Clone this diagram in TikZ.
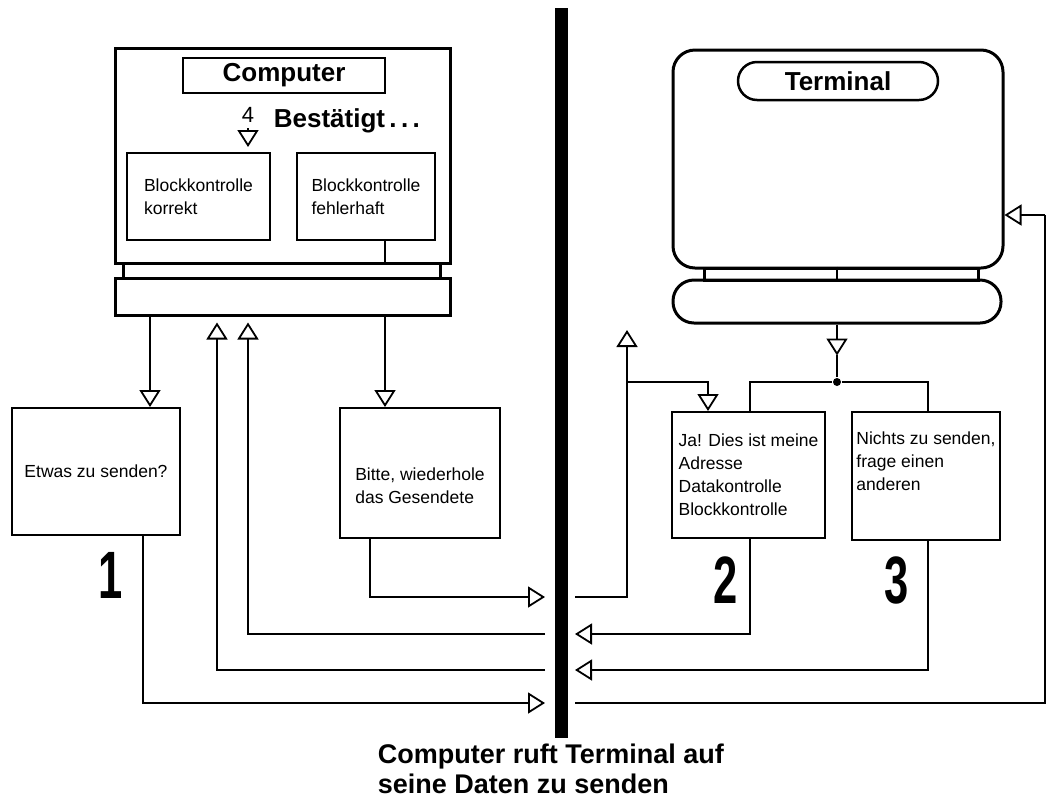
\documentclass[tikz,border=0pt]{standalone}
\usepackage{fontspec}
\setmainfont{Liberation Sans}
\usetikzlibrary{arrows.meta}

\begin{document}
\begin{tikzpicture}[x=1pt, y=-1pt, line width=1.8pt,
    box/.style={draw, line width=2pt, inner sep=0pt, align=left, font=\fontsize{17.5}{23}\selectfont},
    frame/.style={draw, line width=3pt, inner sep=0pt},
    title/.style={font=\bfseries\fontsize{26}{26}\selectfont},
    num/.style={font=\bfseries\fontsize{67}{67}\selectfont, xscale=0.65},
    tri/.style={-{Triangle[open, width=21pt, length=17pt]}}]
  \useasboundingbox (0,0) rectangle (1046,807);

  % Computer
  \node[frame, minimum width=335pt, minimum height=215pt] (comp) at (282.5,155.5) {};
  \node[draw, line width=2.5pt, minimum width=202pt, minimum height=35pt, title] (comptitle) at (284,75.5) {Computer};
  \node[box, minimum width=143pt, minimum height=87pt] (korrekt) at (198.5,196.5) {Blockkontrolle\\korrekt};
  \node[box, minimum width=138pt, minimum height=87pt] (fehler) at (366,196.5) {Blockkontrolle\\fehlerhaft};
  \node[frame, minimum width=317pt, minimum height=15pt] (cneck) at (281.5,270.5) {};
  \node[frame, minimum width=335pt, minimum height=37pt] (cbase) at (282.5,296.5) {};
  \node[font=\fontsize{22}{22}\selectfont, inner sep=1pt] (four) at (248,115) {4};
  \node[title, anchor=base west, inner sep=0pt] (best) at (273,127) {Bestätigt\,.\,.\,.};

  % Terminal
  \node[frame, rounded corners=22pt, minimum width=330pt, minimum height=218pt] (term) at (838,159) {};
  \node[draw, line width=2.5pt, rounded corners=19pt, minimum width=200pt, minimum height=38pt, title] (termtitle) at (838,81) {Terminal};
  \node[frame, minimum width=274pt, minimum height=12pt] (tneck) at (841,274) {};
  \node[frame, rounded corners=21pt, minimum width=328pt, minimum height=43pt] (tbase) at (837,301.5) {};

  % the line between them
  \coordinate (bartop) at (561,8);
  \coordinate (barbot) at (561,738);
  \draw[line width=13pt] (bartop) -- (barbot);

  % boxes
  \node[box, minimum width=168pt, minimum height=127pt] (etwas) at (96,471.5) {Etwas zu senden?};
  \node[box, minimum width=160pt, minimum height=130pt] (bitte) at (420,473) {\strut\\Bitte, wiederhole\\das Gesendete};
  \node[box, minimum width=153pt, minimum height=126pt] (ja) at (748.5,475) {Ja! Dies ist meine\\Adresse\\Datakontrolle\\Blockkontrolle};
  \node[box, minimum width=148pt, minimum height=128pt] (nichts) at (926,476) {Nichts zu senden,\\frage einen\\anderen\\\strut};
  \node[num] (one) at (111,575) {1};
  \node[num] (two) at (726,580) {2};
  \node[num] (three) at (897,580) {3};

  \node[anchor=north west, align=left, inner sep=0pt, font=\bfseries\fontsize{27}{30}\selectfont] (caption) at (377,743) {Computer ruft Terminal auf\\seine Daten zu senden};

  % points for the connectors
  \foreach \i/\y in {1/597,2/634,3/670,4/703}
  {\coordinate (l\i) at (545,\y);
   \coordinate (r\i) at (575,\y);
  }
  \foreach \n/\x in {xa/150,xb/217,xc/248,xd/385,xe/143,xf/370,xg/708,xj/750,xn/928}
    \coordinate (\n) at (\x,0);
  \coordinate (up1) at (627,330);
  \coordinate (jn) at (627,382);
  \coordinate (tin) at (1045,215);
  \node[circle, fill, inner sep=0pt, minimum size=8pt] (split) at (837,382) {};

  % computer side
  \draw[tri, shorten <=4pt, shorten >=5pt] (four) -- (korrekt.north -| four);
  \draw[tri] (cbase.south -| xa) -- (etwas.north -| xa);
  \draw (fehler.south -| xd) -- (comp.south -| xd);
  \draw[tri] (cbase.south -| xd) -- (bitte.north -| xd);
  \draw[tri] (etwas.south -| xe) |- (l4);
  \draw[tri] (bitte.south -| xf) |- (l1);
  \draw[tri, shorten >=6pt] (l2) -| (cbase.south -| xc);
  \draw[tri, shorten >=6pt] (l3) -| (cbase.south -| xb);

  % terminal side
  \draw (tneck.north -| split) -- (tneck.south -| split);
  \draw[tri] (tbase.south) -- ++(0,31);
  \draw (split) -- ++(0,-27);
  \draw (ja.north -| xj) |- (split) -| (nichts.north -| xn);
  \draw[tri] (r1) -| (up1);
  \draw[tri] (jn) -| (ja.north -| xg);
  \draw[tri] (ja.south -| xj) |- (r2);
  \draw[tri] (nichts.south -| xn) |- (r3);
  \draw (r4) -| (tin);
  \draw[tri] (tin) -- (tin -| term.east);
\end{tikzpicture}
\end{document}
